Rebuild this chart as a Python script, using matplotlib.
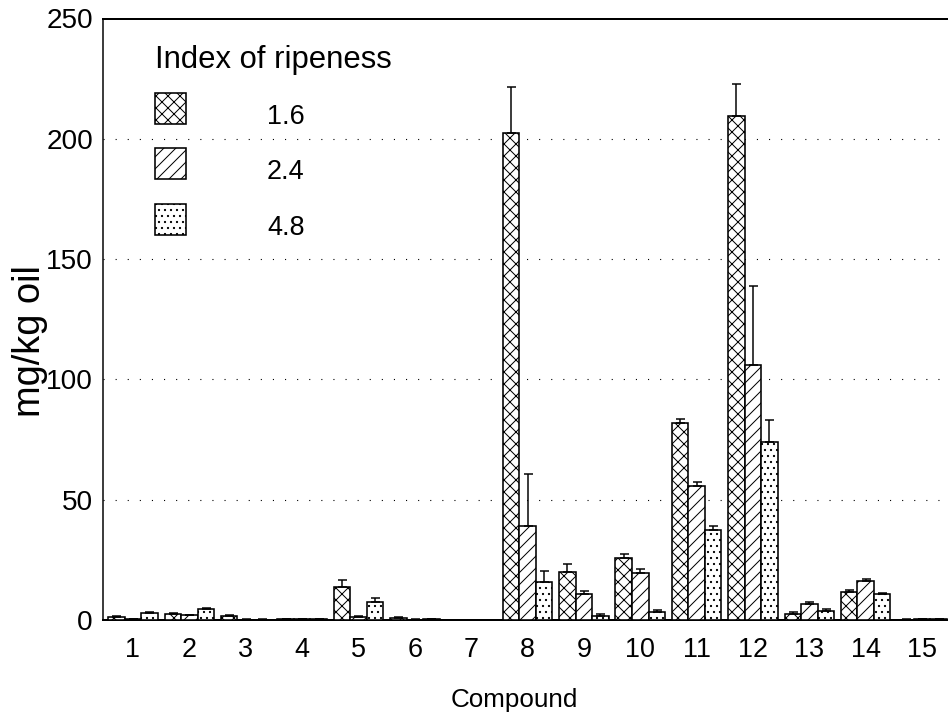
import numpy as np
import matplotlib
matplotlib.use("Agg")
import matplotlib.pyplot as plt
from matplotlib.patches import Rectangle

plt.rcParams['font.family'] = ['Liberation Sans', 'DejaVu Sans']
plt.rcParams['hatch.linewidth'] = 1.0

compounds = [str(i) for i in range(1, 16)]
series_labels = ["1.6", "2.4", "4.8"]
legend_title = "Index of ripeness"
vals_16 = [1.2, 2.5, 1.6, 0.4, 13.8, 1.0, 0.0, 202.5, 19.8, 25.6, 82.0, 209.5, 2.5, 11.5, 0.2]
err_16 = [0.3, 0.6, 0.3, 0.1, 2.8, 0.3, 0.0, 19.1, 3.4, 1.7, 1.5, 13.3, 0.7, 0.8, 0.1]
vals_24 = [0.4, 1.9, 0.2, 0.3, 1.2, 0.2, 0.0, 39.0, 10.9, 19.6, 55.6, 105.8, 6.5, 16.3, 0.3]
err_24 = [0.2, 0.3, 0.1, 0.1, 0.6, 0.1, 0.0, 21.5, 1.3, 1.4, 1.7, 33.0, 0.8, 0.8, 0.1]
vals_48 = [2.8, 4.5, 0.2, 0.5, 7.6, 0.4, 0.0, 16.0, 1.5, 3.3, 37.3, 74.1, 3.7, 10.8, 0.4]
err_48 = [0.4, 0.4, 0.1, 0.1, 1.4, 0.1, 0.0, 4.2, 1.0, 1.0, 1.8, 9.0, 0.9, 0.5, 0.1]
yticks = [0, 50, 100, 150, 200, 250]

W, H, DPI = 948, 717, 72
fig = plt.figure(figsize=(W / DPI, H / DPI), dpi=DPI)
ax = fig.add_axes([103 / W, 1 - 620 / H, (W - 103) / W, (620 - 18.5) / H])

x = np.arange(1, 16)
bw = 0.293
hatches = ['xx', '//', '..']
series = [(vals_16, err_16), (vals_24, err_24), (vals_48, err_48)]
offsets = [-bw, 0, bw]
for (v, e), off, h in zip(series, offsets, hatches):
    ax.bar(x + off, v, width=bw, facecolor='white', edgecolor='black',
           hatch=h, linewidth=1.6, zorder=3)
    ax.errorbar(x + off, v, yerr=[np.zeros(len(e)), e], fmt='none',
                ecolor='black', elinewidth=1.5, capsize=4.5, capthick=1.5, zorder=4)

ax.set_xlim(0.468, 15.46)
ax.set_ylim(0, 250)
ax.set_yticks(yticks)
ax.set_xticks(x)
ax.set_xticklabels(compounds)
ax.tick_params(axis='both', length=0)
ax.tick_params(axis='x', pad=17, labelsize=27)
ax.tick_params(axis='y', pad=10, labelsize=28)

for yv in yticks[1:-1]:
    ax.axhline(yv, color='black', linewidth=1.1, linestyle=(0, (1, 10)), zorder=1)

ax.spines['right'].set_visible(False)
ax.spines['top'].set_linewidth(2)
ax.spines['bottom'].set_linewidth(2)
ax.spines['left'].set_linewidth(1.5)

fig.text(514 / W, 1 - 700 / H, "Compound", ha='center', va='center', fontsize=26)
fig.text(30 / W, 1 - 341 / H, "mg/kg oil", ha='center', va='center', rotation=90, fontsize=38)

# legend drawn manually
fig.text(155 / W, 1 - 68 / H, legend_title, ha='left', va='baseline', fontsize=31)
box_tops = [93, 148, 204]
for lab, h, top in zip(series_labels, hatches, box_tops):
    fig.patches.append(Rectangle((155 / W, 1 - (top + 31) / H), 31 / W, 31 / H,
                                 transform=fig.transFigure, facecolor='white',
                                 edgecolor='black', hatch=h, linewidth=1.6))
    fig.text(267 / W, 1 - (top + 31) / H, lab, ha='left', va='baseline', fontsize=27)

fig.savefig("out.png", dpi=DPI)
